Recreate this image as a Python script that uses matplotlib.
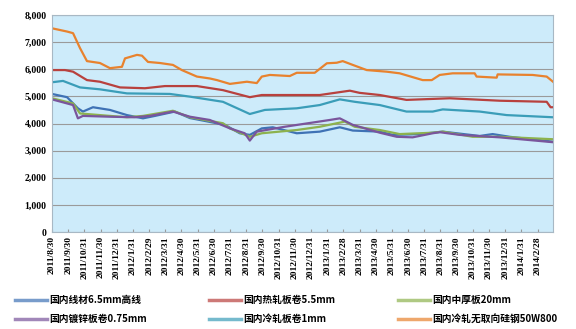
import matplotlib
matplotlib.use("Agg")
import matplotlib.pyplot as plt
from matplotlib.ticker import FuncFormatter

plt.rcParams['font.family'] = ['Noto Sans CJK SC', 'DejaVu Sans']

tick_labels = ["2011/8/30", "2011/9/30", "2011/10/31", "2011/11/30", "2011/12/31",
               "2012/1/31", "2012/2/29", "2012/3/31", "2012/4/30", "2012/5/31",
               "2012/6/30", "2012/7/31", "2012/8/31", "2012/9/30", "2012/10/31",
               "2012/11/30", "2012/12/31", "2013/1/31", "2013/2/28", "2013/3/31",
               "2013/4/30", "2013/5/31", "2013/6/30", "2013/7/31", "2013/8/31",
               "2013/9/30", "2013/10/31", "2013/11/30", "2013/12/31", "2014/1/31",
               "2014/2/28"]

# x positions are in months since 2011/8/30
wire_x = [0, 0.93, 1.6, 1.91, 2.53, 3.58, 4.63, 5.62, 6.36, 7.59, 8.52, 9.14, 10.68, 11.6,
          12.22, 12.96, 13.64, 15.12, 16.54, 17.78, 18.58, 20.25, 21.05, 22.72, 24.14,
          26.42, 27.22, 28.27, 30.95]
wire_y = [5090, 4970, 4560, 4440, 4600, 4500, 4310, 4190, 4280, 4440, 4200, 4130, 3950, 3640,
          3580, 3820, 3860, 3640, 3700, 3860, 3740, 3700, 3580, 3610, 3700,
          3540, 3610, 3510, 3330]

hr_x = [0, 0.8, 1.3, 2.16, 2.96, 4.2, 5.74, 6.98, 8.95, 10.56, 12.22, 12.96, 16.54, 18.4,
        19.0, 20.25, 21.9, 24.57, 27.65, 30.56, 30.8, 30.95]
hr_y = [5970, 5970, 5910, 5600, 5540, 5330, 5300, 5380, 5380, 5230, 4970, 5050, 5050, 5210,
        5130, 5050, 4870, 4930, 4840, 4800, 4600, 4600]

plate_x = [0, 1.3, 1.73, 2.96, 4.63, 5.62, 7.47, 8.52, 10.56, 10.99, 12.22, 12.96, 15.12,
           16.54, 18.09, 18.7, 20.25, 21.48, 23.52, 24.14, 25.99, 27.65, 30.95]
plate_y = [4930, 4740, 4370, 4310, 4230, 4280, 4470, 4230, 4010, 3820, 3510, 3640, 3760,
           3880, 4070, 3880, 3760, 3610, 3660, 3700, 3510, 3510, 3420]

galv_x = [0, 1.3, 1.6, 1.91, 3.58, 5.12, 6.05, 7.47, 8.52, 9.75, 10.99, 11.91, 12.22, 12.65,
          14.38, 17.16, 17.78, 18.58, 20.25, 21.3, 22.28, 23.52, 23.95, 25.19, 27.65, 30.95]
galv_y = [4890, 4680, 4190, 4280, 4250, 4230, 4280, 4440, 4250, 4130, 3820, 3640, 3370, 3700,
          3880, 4130, 4190, 3950, 3660, 3510, 3490, 3640, 3680, 3580, 3490, 3310]

cr_x = [0, 0.68, 1.73, 2.96, 4.63, 7.28, 8.52, 10.56, 12.22, 13.15, 15.12, 16.54, 17.78,
        18.7, 20.25, 21.9, 23.52, 24.14, 26.42, 28.09, 30.95]
cr_y = [5520, 5570, 5330, 5260, 5110, 5090, 4990, 4800, 4350, 4500, 4560, 4680, 4890,
        4800, 4680, 4440, 4440, 4520, 4440, 4310, 4230]

si_x = [0, 0.93, 1.3, 1.73, 2.16, 2.96, 3.58, 4.32, 4.51, 5.25, 5.56, 5.93, 6.67, 7.47,
        8.02, 8.95, 9.75, 10.19, 10.99, 12.04, 12.65, 12.96, 13.46, 14.69, 15.12, 16.23,
        16.98, 17.59, 17.96, 18.58, 19.44, 20.68, 21.48, 22.9, 23.46, 23.95, 24.75,
        26.11, 26.23, 27.47, 27.53, 29.69, 30.56, 30.95]
si_y = [7510, 7390, 7330, 6780, 6300, 6230, 6040, 6090, 6400, 6530, 6500, 6270, 6230, 6160,
        5970, 5730, 5660, 5600, 5460, 5540, 5490, 5730, 5790, 5750, 5870, 5870,
        6220, 6240, 6300, 6160, 5970, 5910, 5850, 5600, 5600, 5790, 5850,
        5850, 5730, 5690, 5810, 5790, 5730, 5540]

series = [
    ("国内线材6.5mm高线", wire_x, wire_y, "#3F72B5"),
    ("国内热轧板卷5.5mm", hr_x, hr_y, "#B8413E"),
    ("国内中厚板20mm", plate_x, plate_y, "#8DB24E"),
    ("国内镀锌板卷0.75mm", galv_x, galv_y, "#7A559C"),
    ("国内冷轧板卷1mm", cr_x, cr_y, "#3A9DB8"),
    ("国内冷轧无取向硅钢50W800", si_x, si_y, "#E8822E"),
]

fig = plt.figure(figsize=(5.76, 3.29), dpi=100)
ax = fig.add_axes([52/576, 1-232/329, (553-52)/576, (232-15)/329])
ax.set_facecolor("#CDEBFA")

for name, xs, ys, c in series:
    ax.plot(xs, ys, color=c, lw=1.6, label=name, solid_joinstyle='round')

ax.set_xlim(0, 30.95)
ax.set_ylim(0, 8000)
ax.set_yticks(range(0, 8001, 1000))
ax.yaxis.set_major_formatter(FuncFormatter(lambda v, p: f"{int(v):,}"))
ax.grid(axis='y', color='#9A9A9A', lw=0.8)
ax.set_axisbelow(True)
ax.set_xticks(range(len(tick_labels)))
ax.set_xticklabels(tick_labels, rotation=90, fontsize=6.8, fontweight='bold',
                   family=['Liberation Serif', 'DejaVu Sans'])
for lab in ax.get_yticklabels():
    lab.set_fontsize(7)
    lab.set_fontweight('bold')
    lab.set_family(['Liberation Serif', 'DejaVu Sans'])
ax.tick_params(axis='y', length=0, pad=4)
ax.tick_params(axis='x', direction='in', length=2, color='#9A9A9A', pad=3)
for s in ax.spines.values():
    s.set_color('#A8B8C4')
    s.set_linewidth(0.8)

handles, labels = ax.get_legend_handles_labels()
order = [0, 3, 1, 4, 2, 5]
leg = fig.legend([handles[i] for i in order], [labels[i] for i in order], ncol=3,
                 loc='lower left', bbox_to_anchor=(10/576, 0.0, 552/576, 0.12),
                 mode='expand', frameon=False, prop={'size': 7, 'weight': 'bold'},
                 handlelength=3.3, columnspacing=1.0, labelspacing=0.95,
                 handletextpad=0.25, borderaxespad=0.1)
for line in leg.get_lines():
    line.set_linewidth(2.5)
    line.set_alpha(0.7)

fig.savefig("out.png", dpi=100)
